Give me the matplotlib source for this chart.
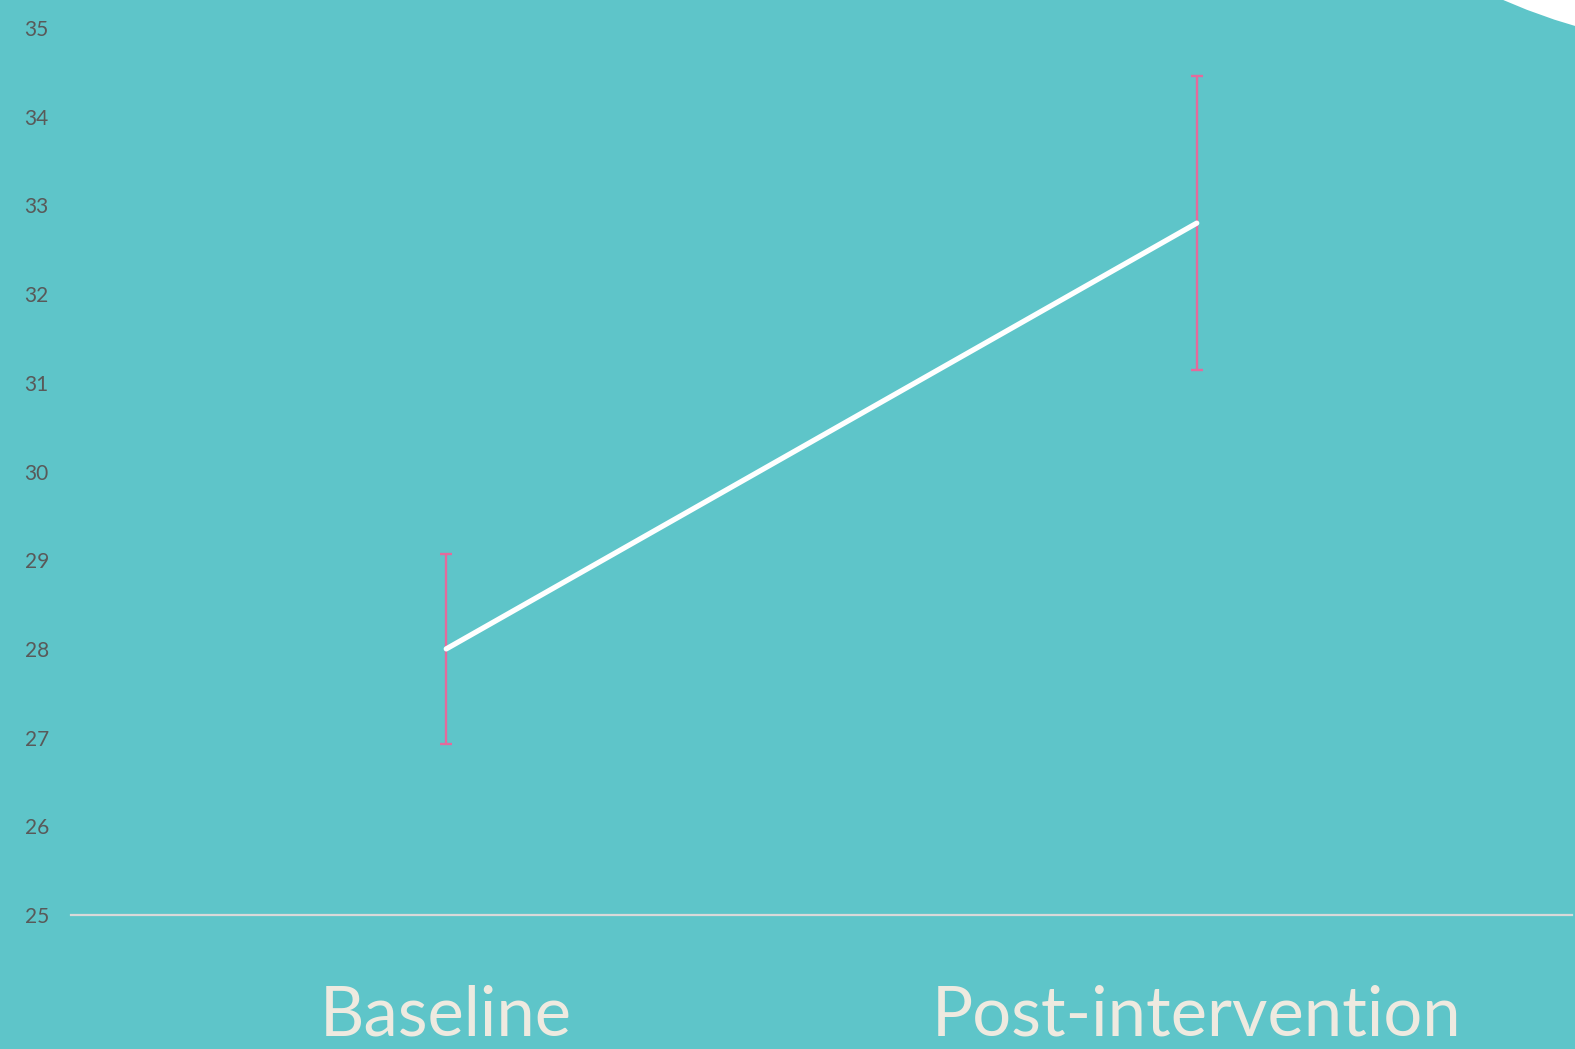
import matplotlib.pyplot as plt
from matplotlib.patches import Ellipse

categories = ["Baseline", "Post-intervention"]
means = [28.0, 32.8]
errors = [1.07, 1.66]
yticks = [25, 26, 27, 28, 29, 30, 31, 32, 33, 34, 35]

bg = "#5EC5C9"

fig = plt.figure(figsize=(15.75, 10.49), dpi=100, facecolor=bg)
ax = fig.add_axes([71 / 1575, 1 - 915 / 1049, (1572 - 71) / 1575, (915 - 28) / 1049])
ax.set_facecolor(bg)

# decorative white circle in the top-right corner
fig.patches.append(Ellipse((1.1067, 1.5243), 0.7619, 1.144, transform=fig.transFigure,
                           facecolor="white", edgecolor="none", zorder=0))

x = list(range(len(categories)))
ax.errorbar(x, means, yerr=errors, fmt="none", ecolor="#E46A9C", elinewidth=1.7,
            capsize=4.3, capthick=1.7, zorder=2)
ax.plot(x, means, color="white", lw=3.8, solid_capstyle="round", zorder=3)

ax.set_xlim(-0.5, 1.5)
ax.set_ylim(25, 35)
ax.set_yticks(yticks)
ax.set_xticks(x)
ax.set_xticklabels(categories, fontsize=49.5, color="#EEEAE0", family="Lato")
for lab in ax.get_yticklabels():
    lab.set_fontsize(15)
    lab.set_color("#595959")
    lab.set_family("Lato")
ax.tick_params(axis="y", length=0, pad=16)
ax.tick_params(axis="x", length=0, pad=50)

for s in ["top", "right", "left"]:
    ax.spines[s].set_visible(False)
ax.spines["bottom"].set_color("#D9D9D9")
ax.spines["bottom"].set_linewidth(1.6)

fig.savefig("out.png", dpi=100, facecolor=bg)
